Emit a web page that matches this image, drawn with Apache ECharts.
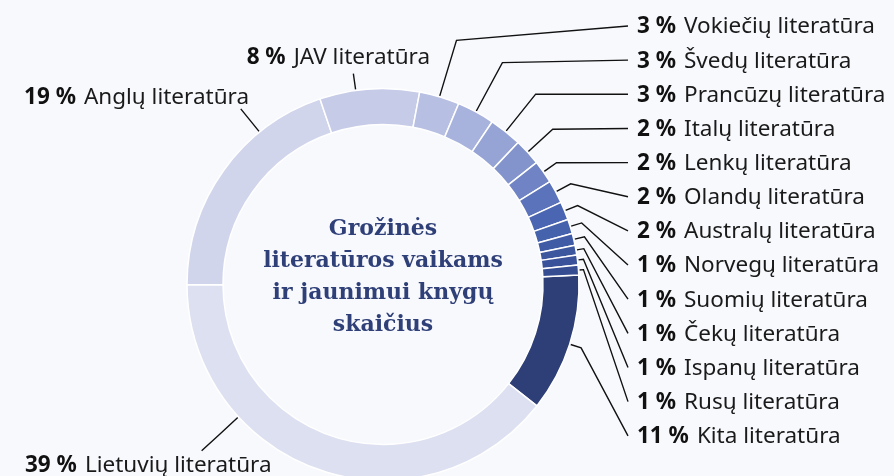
<!DOCTYPE html>
<html>
<head>
<meta charset="utf-8">
<script src="https://cdn.jsdelivr.net/npm/echarts@6/dist/echarts.min.js"></script>
<style>
  html, body { margin: 0; padding: 0; background: #f8f9fd; }
  #chart { width: 894px; height: 476px; }
</style>
</head>
<body>
<div id="chart"></div>
<script>
// kategorijos, pagal laikrodžio rodyklę nuo 3 val.
var names = ['Kita literatūra', 'Lietuvių literatūra', 'Anglų literatūra', 'JAV literatūra',
  'Vokiečių literatūra', 'Švedų literatūra', 'Prancūzų literatūra', 'Italų literatūra',
  'Lenkų literatūra', 'Olandų literatūra', 'Australų literatūra', 'Norvegų literatūra',
  'Suomių literatūra', 'Čekų literatūra', 'Ispanų literatūra', 'Rusų literatūra']
// sektorių dydis (%), įvertintas iš paveikslo
var shares = [11.4, 39.3, 19.8, 8.2, 3.3, 3.1, 2.7, 2.2, 1.9, 1.9, 1.5, 1.2, 0.97, 0.8, 0.83, 0.8]
// užrašuose rodomi procentai
var pctLabels = ['11', '39', '19', '8', '3', '3', '3', '2', '2', '2', '2', '1', '1', '1', '1', '1']

var colors = ['#2e3e76', '#dde0f1', '#d1d5ec', '#c6cbe8', '#b7bfe2', '#a8b3dd', '#96a4d5', '#8394cc',
  '#7083c4', '#5b73bb', '#4a66b2', '#4562ad', '#405ba5', '#3d579f', '#3a5299', '#364d92']

var cx = 383
var cy = 284.5
var rOut = 196
var startAngle = 2.8

// vidurinis kiekvieno sektoriaus kampas (laipsniais, pagal laikrodžio rodyklę nuo 3 val.)
var total = shares.reduce(function (a, b) { return a + b }, 0)
var midAngles = []
var acc = -startAngle
shares.forEach(function (v) {
  var span = v / total * 360
  midAngles.push(acc + span / 2)
  acc += span
})

// pirmosios linijos atkarpos ilgis dešiniesiems užrašams
var elbowLen = { 4: 58, 5: 55, 6: 47, 7: 33, 8: 15, 9: 16, 10: 13, 11: 11, 12: 10, 13: 7, 14: 5, 15: 4, 0: 11 }
// kairieji užrašai: linijos kampas, ilgis, užrašo vieta
var leftLabels = {
  3: { angle: 262, len: 16, x: 430, y: 58, align: 'right' },
  2: { angle: 231, len: 29, x: 249, y: 98, align: 'right' },
  1: { angle: 137.5, len: 49, x: 25, y: 466, align: 'left' }
}

function polar(angle, r) {
  var a = angle * Math.PI / 180
  return [cx + r * Math.cos(a), cy + r * Math.sin(a)]
}

var chart = echarts.init(document.getElementById('chart'))
chart.setOption({
  backgroundColor: '#f8f9fd',
  animation: false,
  graphic: [{
    type: 'text',
    x: cx,
    y: 277,
    style: {
      text: 'Grožinės\nliteratūros vaikams\nir jaunimui knygų\nskaičius',
      fill: '#2f3f77',
      fontFamily: 'DejaVu Serif',
      fontWeight: 'bold',
      fontSize: 22,
      lineHeight: 32,
      align: 'center',
      verticalAlign: 'middle'
    }
  }],
  series: [{
    type: 'pie',
    center: [cx, cy],
    radius: [160, rOut],
    startAngle: startAngle,
    clockwise: true,
    avoidLabelOverlap: false,
    itemStyle: {
      borderColor: '#ffffff',
      borderWidth: 1.5
    },
    label: {
      show: true,
      position: 'outside',
      formatter: function (p) {
        return '{b|' + pctLabels[p.dataIndex] + ' %}{n|' + p.name + '}'
      },
      rich: {
        b: { fontFamily: 'Noto Sans', fontWeight: 'bold', fontSize: 22.5, color: '#111111', padding: [0, 8, 0, 0] },
        n: { fontFamily: 'Noto Sans', fontSize: 22.5, color: '#1a1a1a' }
      }
    },
    labelLine: {
      show: true,
      lineStyle: { color: '#111111', width: 1.4 }
    },
    labelLayout: function (p) {
      var i = p.dataIndex
      var left = leftLabels[i]
      if (left) {
        var a0 = polar(left.angle, rOut + 1)
        var a2 = polar(left.angle, rOut + 1 + left.len)
        var a1 = [(a0[0] + a2[0]) / 2, (a0[1] + a2[1]) / 2]
        return {
          x: left.x, y: left.y, align: left.align, verticalAlign: 'middle',
          labelLinePoints: [a0, a1, a2]
        }
      }
      var row = i === 0 ? 12 : i - 4
      var rowY = 27 + row * 34.15
      var p0 = polar(midAngles[i], rOut + 1)
      var p1 = polar(midAngles[i], rOut + 1 + elbowLen[i])
      return {
        x: 637, y: rowY, align: 'left', verticalAlign: 'middle',
        labelLinePoints: [p0, p1, [628, rowY - 1]]
      }
    },
    data: names.map(function (n, i) {
      return { name: n, value: shares[i], itemStyle: { color: colors[i] } }
    })
  }]
})
</script>
</body>
</html>
